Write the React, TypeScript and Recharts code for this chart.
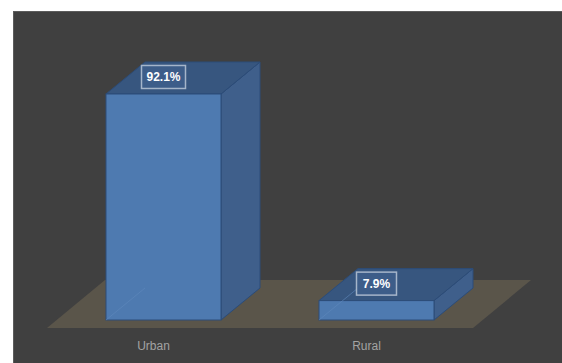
import React from 'react';
import { BarChart, Bar, XAxis, YAxis } from 'recharts';

const categories = ['Urban', 'Rural'];
const shares = [92.1, 7.9];
const valueLabels = ['92.1%', '7.9%'];

const data = categories.map((name, i) => ({ name, value: shares[i], label: valueLabels[i] }));

const W = 562;
const H = 363;
const AXIS_H = 35;
const MARGIN = { top: 82.6, right: 89, bottom: 0, left: 47 };
const PLOT_LEFT = MARGIN.left;
const PLOT_RIGHT = W - MARGIN.right;
const BASE_Y = H - MARGIN.bottom - AXIS_H;
// depth of the floor and position of bars in it
const FLOOR_DX = 58;
const FLOOR_DY = 48;
const BAR_SHIFT_X = 10;
const BAR_SHIFT_Y = 8;
const DX = 39;
const DY = 32;

const FRONT = '#4e7ab0';
const TOP = '#37567f';
const SIDE = '#3f5f8b';
const EDGE = '#2c4c78';

function Box3D(props: any) {
  const { x, y, width, height, index, payload } = props;
  const X = x + BAR_SHIFT_X;
  const Y = y - BAR_SHIFT_Y;
  const w = width;
  const bottom = Y + height;
  const fy = BASE_Y;
  const floor = index === 0 ? (
    <polygon
      points={`${PLOT_LEFT},${fy} ${PLOT_RIGHT},${fy} ${PLOT_RIGHT + FLOOR_DX},${fy - FLOOR_DY} ${PLOT_LEFT + FLOOR_DX},${fy - FLOOR_DY}`}
      fill="#5a554a"
    />
  ) : null;
  const cx = X + w / 2;
  const ly = Y - 17;
  const boxW = payload.label.length > 4 ? 44 : 40;
  return (
    <g>
      {floor}
      <polygon
        points={`${X + w},${Y} ${X + w + DX},${Y - DY} ${X + w + DX},${bottom - DY} ${X + w},${bottom}`}
        fill={SIDE}
        stroke={EDGE}
        strokeWidth={1}
      />
      <polygon
        points={`${X},${Y} ${X + DX},${Y - DY} ${X + w + DX},${Y - DY} ${X + w},${Y}`}
        fill={TOP}
        stroke={EDGE}
        strokeWidth={1}
      />
      <rect x={X} y={Y} width={w} height={height} fill={FRONT} stroke={EDGE} strokeWidth={1} />
      <line x1={X} y1={bottom} x2={X + DX} y2={bottom - DY} stroke="#5f88bd" strokeOpacity={0.6} />
      <rect
        x={cx - boxW / 2}
        y={ly - 11.5}
        width={boxW}
        height={23}
        fill="#3d5d89"
        stroke="#b9c5d6"
        strokeWidth={1.5}
        strokeOpacity={0.85}
      />
      <text
        x={cx}
        y={ly}
        textAnchor="middle"
        dominantBaseline="central"
        fill="#ffffff"
        fontFamily="Liberation Sans, Arial, sans-serif"
        fontWeight="bold"
        fontSize={12}
      >
        {payload.label}
      </text>
    </g>
  );
}

function Tick(props: any) {
  const { x, payload } = props;
  return (
    <text
      x={x}
      y={BASE_Y + 18}
      textAnchor="middle"
      dominantBaseline="central"
      fill="#a3a3a3"
      fontFamily="Liberation Sans, Arial, sans-serif"
      fontSize={12}
    >
      {payload.value}
    </text>
  );
}

export default function App() {
  return (
    <div style={{ position: 'absolute', left: 0, top: 0, width: W, height: H, background: '#ffffff', overflow: 'hidden' }}>
      <div
        style={{
          position: 'absolute',
          left: 13,
          top: 11,
          width: W - 13,
          height: H - 11,
          background: '#404040',
          borderTop: '1px solid #5c5c5c',
          borderLeft: '1px solid #5c5c5c',
          boxSizing: 'border-box',
        }}
      />
      <div style={{ position: 'absolute', left: 0, top: 0 }}>
        <BarChart width={W} height={H} data={data} margin={MARGIN}>
          <XAxis dataKey="name" height={AXIS_H} axisLine={false} tickLine={false} tick={<Tick />} interval={0} />
          <YAxis hide domain={[0, 100]} />
          <Bar dataKey="value" barSize={115} shape={<Box3D />} isAnimationActive={false} />
        </BarChart>
      </div>
    </div>
  );
}
